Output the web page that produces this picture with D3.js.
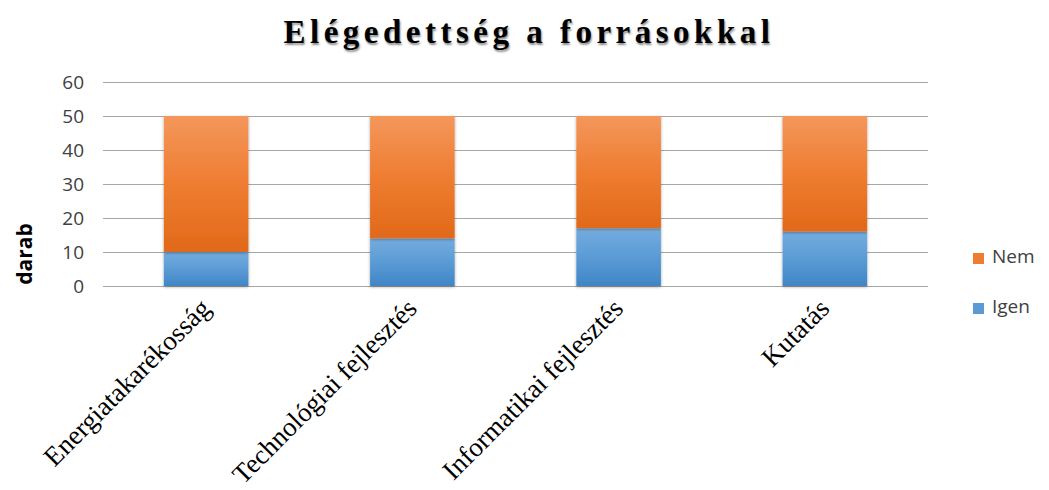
<!DOCTYPE html>
<html>
<head>
<meta charset="utf-8">
<script src="https://cdn.jsdelivr.net/npm/d3@7"></script>
<style>
  body { margin: 0; background: #fff; }
  svg { display: block; }
</style>
</head>
<body>
<div id="chart"></div>
<script>
(function() {

const categories = ["Energiatakarékosság", "Technológiai fejlesztés", "Informatikai fejlesztés", "Kutatás"];
const igen = [10, 14, 17, 16];
const nem = [40, 36, 33, 34];
const seriesNames = ["Igen", "Nem"];
const yTicks = [0, 10, 20, 30, 40, 50, 60];

const width = 1049,
    height = 490,
    margin = ({ top: 82, right: 121, bottom: 204, left: 103 });

const data = categories.map((c, i) => ({ cat: c, Igen: igen[i], Nem: nem[i] }));
const stacked = d3.stack().keys(seriesNames)(data);

let svg = d3.select("#chart")
    .append("svg")
    .attr("width", width)
    .attr("height", height);

const defs = svg.append("defs");

// vertical gradients like the office chart
const grads = {
    Nem: ["#f4975c", "#ee7d31", "#e1691a"],
    Igen: ["#74acdf", "#5b9bd5", "#3f85c6"]
};
for (let k in grads) {
    let g = defs.append("linearGradient")
        .attr("id", "grad-" + k)
        .attr("x1", 0).attr("y1", 0).attr("x2", 0).attr("y2", 1);
    g.append("stop").attr("offset", "0%").attr("stop-color", grads[k][0]);
    g.append("stop").attr("offset", "50%").attr("stop-color", grads[k][1]);
    g.append("stop").attr("offset", "100%").attr("stop-color", grads[k][2]);
}

let shadow = defs.append("filter")
    .attr("id", "shadow")
    .attr("x", "-20%").attr("y", "-20%").attr("width", "140%").attr("height", "140%");
shadow.append("feDropShadow")
    .attr("dx", 0).attr("dy", 1)
    .attr("stdDeviation", 1.6)
    .attr("flood-color", "#000")
    .attr("flood-opacity", 0.35);

let x = d3.scaleBand()
    .domain(categories)
    .range([margin.left, width - margin.right])
    .paddingInner(0.59)
    .paddingOuter(0.295);

let y = d3.scaleLinear()
    .domain([0, 60])
    .range([height - margin.bottom, margin.top]);

// gridlines + tick labels
let yAxis = svg.append("g")
    .attr("transform", `translate(${margin.left},0)`)
    .call(d3.axisLeft(y)
        .tickValues(yTicks)
        .tickSize(-(width - margin.left - margin.right))
        .tickPadding(19));
yAxis.select(".domain").remove();
yAxis.selectAll(".tick line")
    .attr("stroke", "#a6a6a6")
    .attr("stroke-width", 1.2);
yAxis.selectAll(".tick text")
    .attr("font-family", "Open Sans, sans-serif")
    .attr("font-size", 19)
    .attr("fill", "#404040");

// bars
let layer = svg.selectAll(".layer")
    .data(stacked)
    .join("g")
    .attr("class", "layer")
    .attr("fill", d => `url(#grad-${d.key})`);

layer.selectAll("rect")
    .data(d => d)
    .join("rect")
    .attr("x", d => x(d.data.cat))
    .attr("width", x.bandwidth())
    .attr("y", d => y(d[1]))
    .attr("height", d => y(d[0]) - y(d[1]))
    .attr("filter", "url(#shadow)");

// category labels, rotated
svg.append("g")
    .selectAll("text")
    .data(categories)
    .join("text")
    .attr("transform", d => `translate(${x(d) + x.bandwidth() / 2 + 6},${height - margin.bottom + 24}) rotate(-45)`)
    .attr("text-anchor", "end")
    .attr("font-family", "Liberation Serif, Times New Roman, serif")
    .attr("font-size", 27)
    .attr("fill", "#000")
    .text(d => d);

// title
svg.append("text")
    .attr("x", 529)
    .attr("y", 43)
    .attr("text-anchor", "middle")
    .attr("font-family", "Liberation Serif, Times New Roman, serif")
    .attr("font-weight", "bold")
    .attr("font-size", 33)
    .attr("letter-spacing", "4.5px")
    .style("text-shadow", "1px 2px 2px rgba(0,0,0,0.45)")
    .text("Elégedettség a forrásokkal");

// y label
svg.append("text")
    .attr("transform", "rotate(-90)")
    .attr("x", -254)
    .attr("y", 32)
    .attr("text-anchor", "middle")
    .attr("font-family", "Open Sans, sans-serif")
    .attr("font-weight", "bold")
    .attr("font-size", 21)
    .attr("fill", "#000")
    .text("darab");

// legend (Nem on top)
let legend = svg.append("g")
    .selectAll("g")
    .data(["Nem", "Igen"])
    .join("g")
    .attr("transform", (d, i) => `translate(973,${258 + i * 50})`);

legend.append("rect")
    .attr("x", 0)
    .attr("y", -5)
    .attr("width", 11)
    .attr("height", 11)
    .attr("fill", d => grads[d][1]);

legend.append("text")
    .attr("x", 19)
    .attr("y", 0)
    .attr("dominant-baseline", "middle")
    .attr("font-family", "Open Sans, sans-serif")
    .attr("font-size", 19)
    .attr("fill", "#404040")
    .text(d => d);

})();
</script>
</body>
</html>
